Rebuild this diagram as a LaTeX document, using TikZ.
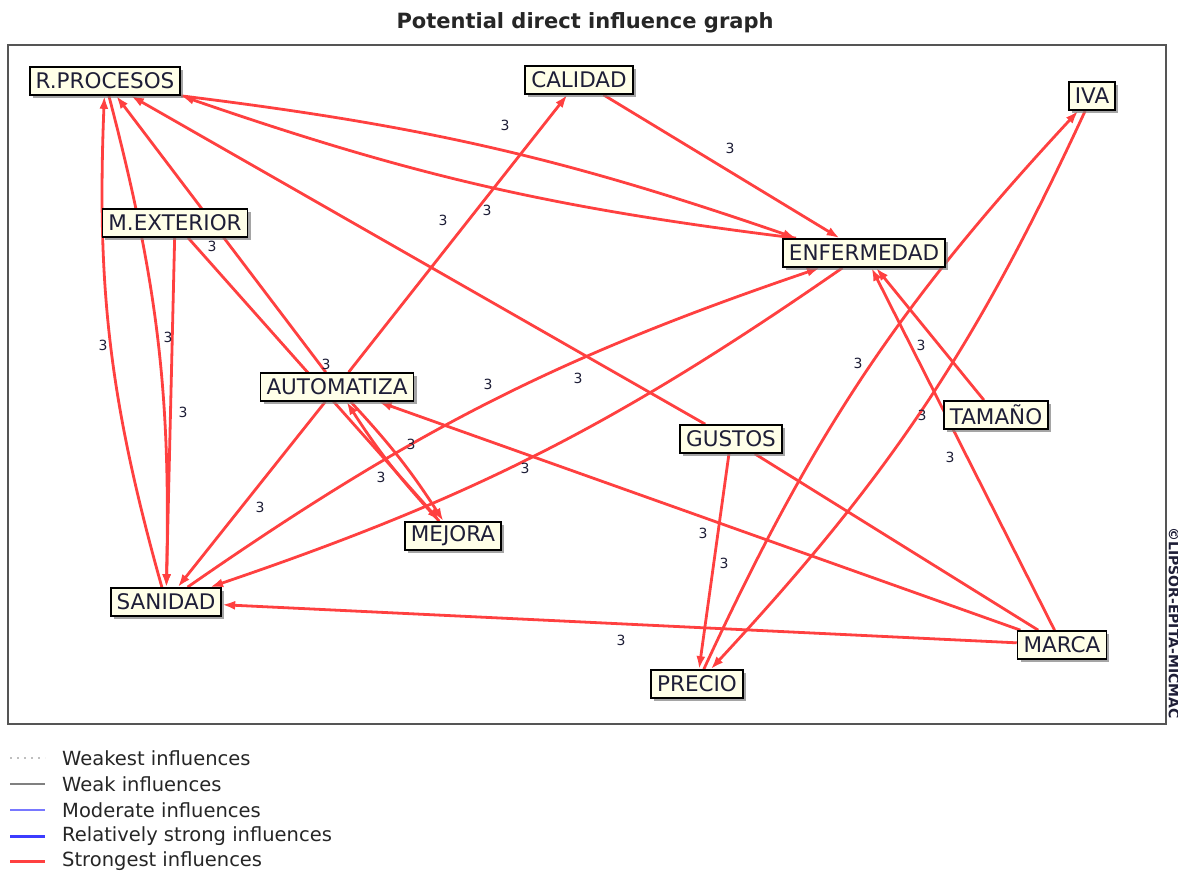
\documentclass[tikz,border=0pt]{standalone}
\usepackage{fontspec}
\setmainfont{DejaVu Sans}
\usetikzlibrary{arrows.meta,shadows,backgrounds}
\definecolor{infred}{RGB}{255,64,64}
\definecolor{nodefill}{RGB}{255,255,232}
\definecolor{framegray}{RGB}{85,85,85}
\definecolor{txt}{RGB}{30,30,55}
\definecolor{modblue}{RGB}{120,120,255}
\definecolor{strblue}{RGB}{60,60,255}
\tikzset{
  var/.style={draw=black, line width=1.7pt, fill=nodefill,
    font=\fontsize{21.5}{21.5}\selectfont, text=txt, inner xsep=6pt, inner ysep=0pt,
    minimum height=28pt,
    drop shadow={shadow xshift=3pt, shadow yshift=-3pt, fill=black!50, opacity=0.7}},
  infl/.style={draw=infred, line width=2.8pt, -{Latex[length=13pt,width=9pt]}},
  plainline/.style={draw=infred, line width=2.8pt},
  val/.style={font=\fontsize{14}{14}\selectfont, text=txt, inner sep=0pt},
  legtext/.style={font=\fontsize{19.5}{19.5}\selectfont, text=black!85, anchor=west, inner sep=0pt},
}
\begin{document}
\begin{tikzpicture}[x=1pt,y=-1pt]
\useasboundingbox (0,0) rectangle (1178,874);

% title
\node[font=\bfseries\fontsize{21}{21}\selectfont, text=black!85] (title) at (585,23) {Potential direct influence graph};

% variables
\node[var] (rp)   at (105,81)  {R.PROCESOS};
\node[var] (cal)  at (579,80)  {CALIDAD};
\node[var] (iva)  at (1092,96) {IVA};
\node[var] (mext) at (175,223) {M.EXTERIOR};
\node[var] (enf)  at (864,253) {ENFERMEDAD};
\node[var] (aut)  at (337,387) {AUTOMATIZA};
\node[var] (tam)  at (996,415) {TAMAÑO};
\node[var] (gus)  at (731,439) {GUSTOS};
\node[var] (mej)  at (453,536) {MEJORA};
\node[var] (san)  at (166,602) {SANIDAD};
\node[var] (mar)  at (1062,645) {MARCA};
\node[var] (pre)  at (697,684) {PRECIO};

\begin{scope}[on background layer]
  \fill[white] (0,0) rectangle (1178,874);
  \draw[framegray, line width=2pt] (8,45) rectangle (1166,724);
  \draw[infl] (san) to[bend left=9] (rp);
  \draw[infl] (rp) to[bend left=8] (san);
  \draw[infl] (mext) -- (san);
  \draw[infl] (mext) -- (mej);
  \draw[infl] (aut) -- (rp);
  \draw[infl] (gus) -- (rp);
  \draw[infl] (rp.south east) to[bend left=6] ([xshift=14pt]enf.north west);
  \draw[infl] ([xshift=14pt]enf.north west) to[bend left=6] (rp.south east);
  \draw[infl] (cal) -- (enf);
  \draw[infl] (aut) -- (cal);
  \draw[infl] (aut) to[bend left=5] (mej);
  \draw[infl] (mej) to[bend left=5] (aut);
  \draw[infl] (aut) -- (san);
  \draw[infl] (san) to[bend left=8] (enf);
  \draw[infl] (enf) to[bend left=8] (san);
  \draw[infl] (tam) -- (enf);
  \draw[infl] (mar) -- (enf);
  \draw[infl] (mar) -- (san);
  \draw[infl] (mar) -- (aut);
  \draw[plainline] (mar) -- (gus);
  \draw[infl] (gus) -- (pre);
  \draw[infl] (iva) to[bend left=9] (pre);
  \draw[infl] (pre) to[bend left=9] (iva);
\end{scope}

% influence values
\node[val] (l1)  at (505,125) {3};
\node[val] (l2)  at (730,148) {3};
\node[val] (l3)  at (443,220) {3};
\node[val] (l4)  at (487,210) {3};
\node[val] (l5)  at (212,246) {3};
\node[val] (l6)  at (103,345) {3};
\node[val] (l7)  at (168,337) {3};
\node[val] (l8)  at (183,412) {3};
\node[val] (l9)  at (326,364) {3};
\node[val] (l10) at (488,384) {3};
\node[val] (l11) at (578,378) {3};
\node[val] (l12) at (411,444) {3};
\node[val] (l13) at (381,477) {3};
\node[val] (l14) at (525,468) {3};
\node[val] (l15) at (260,507) {3};
\node[val] (l16) at (703,533) {3};
\node[val] (l17) at (724,563) {3};
\node[val] (l18) at (621,640) {3};
\node[val] (l19) at (858,363) {3};
\node[val] (l20) at (921,345) {3};
\node[val] (l21) at (922,415) {3};
\node[val] (l22) at (950,457) {3};

% copyright
\node[font=\bfseries\fontsize{14}{14}\selectfont, text=txt, rotate=-90, anchor=west, inner sep=0pt] (copy) at (1174,527) {©LIPSOR-EPITA-MICMAC};

% legend
\draw[black!25, line width=1.2pt, dash pattern=on 2pt off 5pt] (10,758) -- (45,758);
\draw[black!50, line width=2pt] (10,784) -- (45,784);
\draw[modblue, line width=1.5pt] (10,810) -- (45,810);
\draw[strblue, line width=3pt] (10,836) -- (45,836);
\draw[infred, line width=3pt] (10,861) -- (45,861);
\node[legtext] (lg1) at (62,758) {Weakest influences};
\node[legtext] (lg2) at (62,784) {Weak influences};
\node[legtext] (lg3) at (62,810) {Moderate influences};
\node[legtext] (lg4) at (62,836) {Relatively strong influences};
\node[legtext] (lg5) at (62,861) {Strongest influences};
\end{tikzpicture}
\end{document}
